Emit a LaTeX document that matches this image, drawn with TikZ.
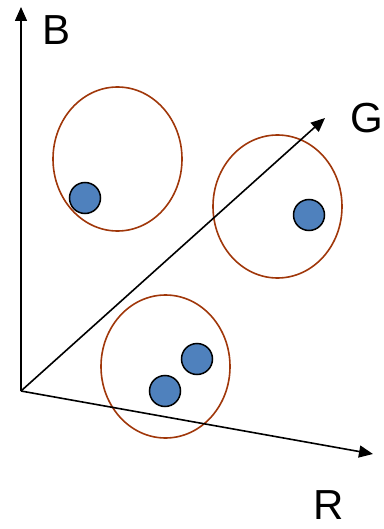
\documentclass[tikz,border=0pt]{standalone}
\usepackage{fontspec}
\setmainfont{Liberation Sans}
\usetikzlibrary{arrows.meta}
\definecolor{ringc}{RGB}{160,55,10}
\definecolor{dotc}{RGB}{79,129,189}
\begin{document}
\begin{tikzpicture}[x=1pt,y=-1pt,
  axis/.style={line width=1.6pt,-{Triangle[length=14pt,width=12pt]}},
  ring/.style={draw=ringc,line width=1.6pt},
  dot/.style={circle,draw=black,fill=dotc,line width=1.5pt,minimum size=31pt,inner sep=0pt},
  lab/.style={inner sep=0pt,font=\fontsize{42}{48}\selectfont}]
\useasboundingbox (0,0) rectangle (383,529);
\coordinate (O) at (21,391);
\coordinate (Bt) at (21,7);
\coordinate (Gt) at (325,118);
\coordinate (Rt) at (373,454);
\draw[ring] (117.5,159) ellipse [x radius=64.5, y radius=72];
\draw[ring] (277.5,206.5) ellipse [x radius=64.5, y radius=71.5];
\draw[ring] (165.5,366.5) ellipse [x radius=64.5, y radius=71.5];
\draw[axis] (O) -- (Bt);
\draw[axis] (O) -- (Gt);
\draw[axis] (O) -- (Rt);
\node[dot] (d1) at (85,198) {};
\node[dot] (d2) at (309,215) {};
\node[dot] (d3) at (197,359) {};
\node[dot] (d4) at (165,391) {};
\node[lab] (B) at (57,30) {B};
\node[lab] (G) at (367,118) {G};
\node[lab] (R) at (329,505) {R};
\end{tikzpicture}
\end{document}
